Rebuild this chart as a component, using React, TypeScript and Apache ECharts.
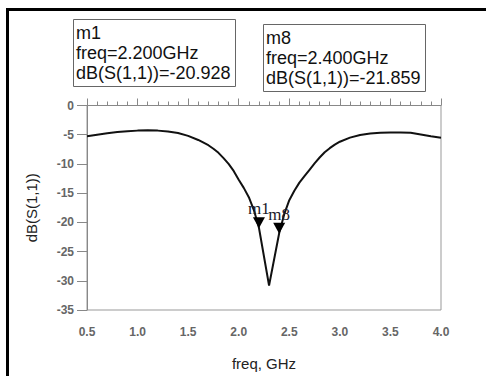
import React, { useEffect, useRef } from "react";
import * as echarts from "echarts";

const freqGHz = [
  0.5, 0.6, 0.7, 0.8, 0.9, 1.0, 1.1, 1.2, 1.3, 1.4, 1.5, 1.6, 1.7, 1.75, 1.8, 1.85, 1.9, 1.95, 2.0,
  2.05, 2.1, 2.15, 2.2, 2.3, 2.4, 2.45, 2.5, 2.55, 2.6, 2.65, 2.7, 2.75, 2.8, 2.85, 2.9, 2.95, 3.0,
  3.1, 3.2, 3.3, 3.4, 3.5, 3.6, 3.7, 3.8, 3.9, 4.0,
];
const s11dB = [
  -5.25, -5.0, -4.75, -4.55, -4.4, -4.3, -4.25, -4.3, -4.45, -4.7, -5.2, -5.9, -6.8, -7.4, -8.1,
  -9.0, -10.0, -11.2, -12.7, -14.1, -15.7, -17.9, -20.928, -30.8, -21.859, -18.6, -16.2, -14.6,
  -13.2, -12.1, -11.0, -9.9, -8.9, -8.0, -7.3, -6.7, -6.2, -5.5, -5.05, -4.8, -4.65, -4.6, -4.6,
  -4.65, -4.95, -5.25, -5.5,
];
const markerNames = ["m1", "m8"];
const markerFreq = [2.2, 2.4];
const markerVal = [-20.928, -21.859];

export default function App() {
  const ref = useRef<HTMLDivElement>(null);
  useEffect(() => {
    const chart = echarts.init(ref.current!, null, { renderer: "svg" });
    const font = "Arial, 'Liberation Sans', sans-serif";
    const boxes = markerNames.map((n, i) => {
      const pos = i === 0 ? { x: 73, y: 19 } : { x: 263, y: 24 };
      return {
        type: "group",
        x: pos.x,
        y: pos.y,
        children: [
          {
            type: "rect",
            shape: { x: 0.5, y: 0.5, width: 162, height: 67 },
            style: { fill: "#fff", stroke: "#666", lineWidth: 1 },
          },
          {
            type: "text",
            x: 3,
            y: 4,
            style: {
              text: `${n}\nfreq=${markerFreq[i].toFixed(3)}GHz\ndB(S(1,1))=${markerVal[i].toFixed(3)}`,
              font: `18px ${font}`,
              lineHeight: 20,
              fill: "#111",
            },
          },
        ],
      };
    });
    chart.setOption({
      animation: false,
      backgroundColor: "#fff",
      grid: {
        left: 87,
        right: 45,
        top: 105.5,
        bottom: 65.5,
        show: true,
        borderColor: "#999",
        borderWidth: 1,
      },
      xAxis: {
        type: "value",
        min: 0.5,
        max: 4.0,
        interval: 0.5,
        name: "freq, GHz",
        nameLocation: "middle",
        nameGap: 46,
        nameTextStyle: { fontFamily: font, fontSize: 15, color: "#222" },
        axisLine: { lineStyle: { color: "#888" } },
        axisTick: { inside: true, length: 7, lineStyle: { color: "#888" } },
        minorTick: { show: true, splitNumber: 5, length: 4, lineStyle: { color: "#888" } },
        splitLine: { show: false },
        axisLabel: {
          formatter: (v: number) => v.toFixed(1),
          fontFamily: font,
          fontSize: 12,
          fontWeight: "bold",
          color: "#666",
          margin: 16,
        },
      },
      yAxis: {
        type: "value",
        min: -35,
        max: 0,
        interval: 5,
        name: "dB(S(1,1))",
        nameLocation: "middle",
        nameGap: 48,
        nameTextStyle: { fontFamily: font, fontSize: 15, color: "#222" },
        axisLine: { show: true, lineStyle: { color: "#888" } },
        axisTick: { show: true, inside: false, length: 10, lineStyle: { color: "#888" } },
        splitLine: { show: false },
        axisLabel: {
          fontFamily: font,
          fontSize: 12,
          fontWeight: "bold",
          color: "#666",
          margin: 13,
        },
      },
      series: [
        {
          type: "line",
          data: freqGHz.map((f, i) => [f, s11dB[i]]),
          showSymbol: false,
          lineStyle: { color: "#111", width: 2 },
          markPoint: {
            symbol: "triangle",
            symbolSize: [12, 11],
            symbolRotate: 180,
            symbolOffset: [0, -5],
            itemStyle: { color: "#000" },
            label: {
              show: true,
              position: "top",
              distance: 0,
              fontFamily: "'Liberation Serif', 'DejaVu Serif', serif",
              fontSize: 17,
              color: "#1a1a2a",
              formatter: (p: any) => p.name,
            },
            data: markerNames.map((n, i) => ({ name: n, coord: [markerFreq[i], markerVal[i]] })),
          },
        },
      ],
      graphic: [
        ...boxes,
        {
          type: "line",
          shape: { x1: 7.5, y1: 8, x2: 7.5, y2: 376 },
          style: { stroke: "#000", lineWidth: 3 },
        },
        {
          type: "line",
          shape: { x1: 6, y1: 9.5, x2: 486, y2: 9.5 },
          style: { stroke: "#000", lineWidth: 3 },
        },
      ],
    });
    return () => chart.dispose();
  }, []);
  return (
    <div
      ref={ref}
      style={{ position: "fixed", left: 0, top: 0, width: 486, height: 376 }}
    />
  );
}
